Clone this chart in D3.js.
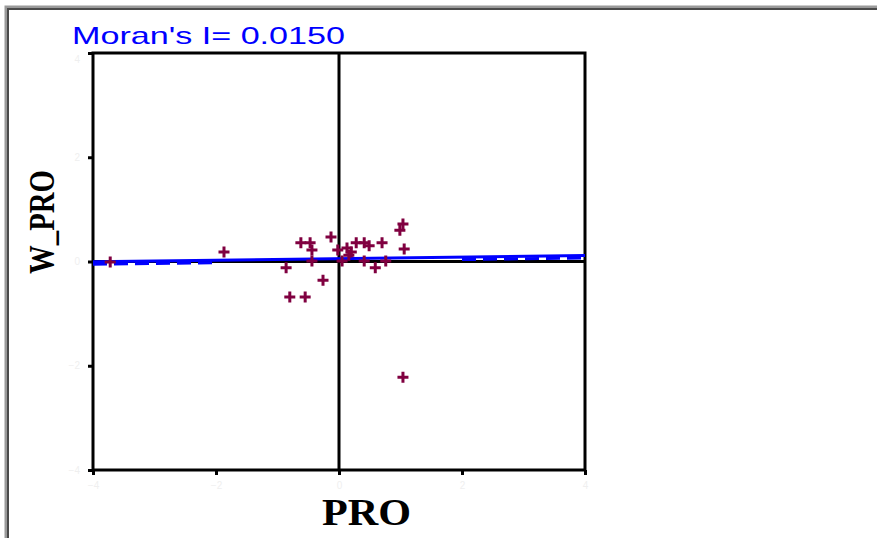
<!DOCTYPE html>
<html>
<head>
<meta charset="utf-8">
<script src="https://cdn.jsdelivr.net/npm/d3@7"></script>
<style>
  body { margin: 0; background: #fff; }
</style>
</head>
<body>
<div id="chart"></div>
<script>
// Data (PRO vs spatial lag W_PRO)
let proValues = [-3.72, -1.87, -0.86, -0.80, -0.55, -0.62, -0.47, -0.44, -0.44, -0.26,
	-0.13, -0.02, 0.05, 0.13, 0.20, 0.16, 0.28, 0.41, 0.49, 0.70,
	0.41, 0.59, 0.76, 1.04, 0.99, 1.06, 1.04];
let wproValues = [-0.01, 0.18, -0.12, -0.68, -0.68, 0.36, 0.36, 0.22, 0.01, -0.36,
	0.47, 0.22, 0.01, 0.26, 0.18, 0.12, 0.36, 0.36, 0.30, 0.36,
	0.01, -0.12, 0.01, 0.72, 0.60, 0.24, -2.22];
let xTicks = [-4, -2, 0, 2, 4];
let yTicks = [-4, -2, 0, 2, 4];
let moranI = 0.0150;
let intercept = 0.055;
// segments where the dashed line is drawn
let dashedSegments = [[-4, -2], [2, 4]];

let width = 877, height = 538;
let margin = {left: 93, right: 292, top: 53, bottom: 68};

let svg = d3.select("#chart")
	.append("svg")
	.attr("width", width)
	.attr("height", height);

// Window frame
svg.append("path")
	.attr("d", "M6.5," + height + "V7.5H" + width)
	.attr("fill", "none")
	.attr("stroke", "#9a9a9a")
	.attr("stroke-width", 4);
svg.append("path")
	.attr("d", "M8," + height + "V9H" + width)
	.attr("fill", "none")
	.attr("stroke", "#4a4a4a")
	.attr("stroke-width", 2);

let x = d3.scaleLinear()
	.domain([-4, 4])
	.range([margin.left, width - margin.right]);

let y = d3.scaleLinear()
	.domain([-4, 4])
	.range([height - margin.bottom, margin.top]);

// Axes with short ticks and barely visible labels
let xAxis = svg.append("g")
	.attr("transform", "translate(0," + y(-4) + ")")
	.call(d3.axisBottom(x).tickValues(xTicks).tickSize(5).tickPadding(7));
let yAxis = svg.append("g")
	.attr("transform", "translate(" + x(-4) + ",0)")
	.call(d3.axisLeft(y).tickValues(yTicks).tickSize(5).tickPadding(8));

[xAxis, yAxis].forEach(function (a) {
	a.select(".domain").remove();
	a.selectAll(".tick line").attr("stroke", "#000").attr("stroke-width", 3);
	a.selectAll(".tick text")
		.attr("fill", "#efefef")
		.style("font-family", "Liberation Sans")
		.style("font-size", "10px");
});
// the top label would run into the title
yAxis.selectAll(".tick text").filter(function (d) { return d === 4; }).attr("dy", "0.9em");

// Plot frame
svg.append("rect")
	.attr("x", x(-4))
	.attr("y", y(4))
	.attr("width", x(4) - x(-4))
	.attr("height", y(-4) - y(4))
	.attr("fill", "none")
	.attr("stroke", "#000")
	.attr("stroke-width", 3);

// Zero lines
svg.append("line")
	.attr("x1", x(0)).attr("x2", x(0))
	.attr("y1", y(4)).attr("y2", y(-4))
	.attr("stroke", "#000").attr("stroke-width", 3);
svg.append("line")
	.attr("x1", x(-4)).attr("x2", x(4))
	.attr("y1", y(0)).attr("y2", y(0))
	.attr("stroke", "#000").attr("stroke-width", 3);

// Regression line, slope = Moran's I
let fit = function (v) { return intercept + moranI * v; };

svg.selectAll(".dash")
	.data(dashedSegments)
	.enter().append("line")
	.attr("class", "dash")
	.attr("x1", function (d) { return x(d[0]); })
	.attr("x2", function (d) { return x(d[1]); })
	.attr("y1", function (d) { return y(fit(d[0])) + 2.5; })
	.attr("y2", function (d) { return y(fit(d[1])) + 2.5; })
	.attr("stroke", "#0000ff")
	.attr("stroke-width", 3)
	.attr("stroke-dasharray", "14,7");

svg.append("line")
	.attr("x1", x(-4)).attr("x2", x(4))
	.attr("y1", y(fit(-4))).attr("y2", y(fit(4)))
	.attr("stroke", "#0000ff")
	.attr("stroke-width", 3);

// Points drawn as crosses
let points = proValues.map(function (v, i) { return [v, wproValues[i]]; });
svg.selectAll(".pt")
	.data(points)
	.enter().append("path")
	.attr("class", "pt")
	.attr("transform", function (d) {
		return "translate(" + x(d[0]) + "," + y(d[1]) + ")";
	})
	.attr("d", "M-5.5,0H5.5M0,-5.5V5.5")
	.attr("stroke", "#800040")
	.attr("stroke-width", 3)
	.attr("fill", "none");

// Title
svg.append("text")
	.attr("x", 72)
	.attr("y", 44)
	.attr("textLength", 273)
	.attr("lengthAdjust", "spacingAndGlyphs")
	.style("font-family", "Liberation Sans")
	.style("font-size", "24px")
	.attr("fill", "#0000ff")
	.text("Moran's I= " + moranI.toFixed(4));

// Axis titles
svg.append("text")
	.attr("x", 322)
	.attr("y", 525)
	.attr("textLength", 89)
	.attr("lengthAdjust", "spacingAndGlyphs")
	.style("font-family", "Liberation Serif")
	.style("font-weight", "bold")
	.style("font-size", "37px")
	.text("PRO");

svg.append("text")
	.attr("transform", "translate(54,222) rotate(-90)")
	.attr("text-anchor", "middle")
	.attr("textLength", 104)
	.attr("lengthAdjust", "spacingAndGlyphs")
	.style("font-family", "Liberation Serif")
	.style("font-weight", "bold")
	.style("font-size", "35px")
	.text("W_PRO");
</script>
</body>
</html>
